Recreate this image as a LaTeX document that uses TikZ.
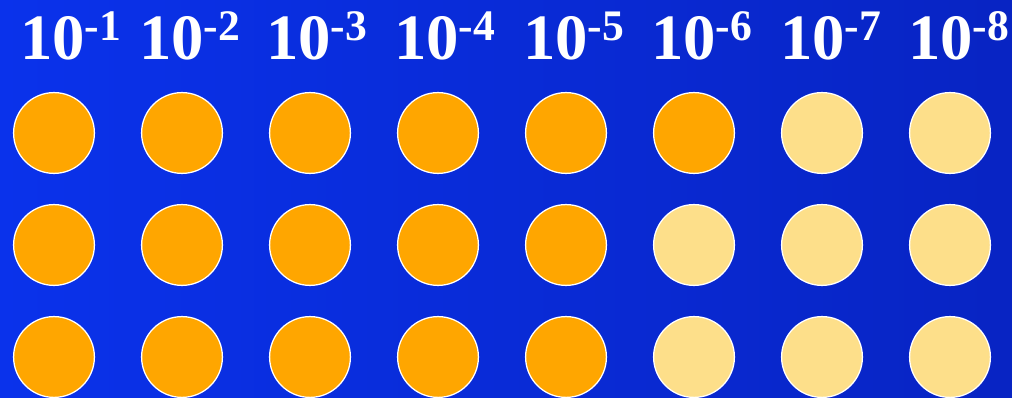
\documentclass[tikz,border=0pt]{standalone}
\usepackage{fontspec}
\setmainfont{Liberation Serif}
\definecolor{bgleft}{RGB}{10,50,235}
\definecolor{bgright}{RGB}{8,36,195}
\definecolor{dotfull}{RGB}{255,166,0}
\definecolor{dotpale}{RGB}{253,223,138}
\newcommand{\tenpow}[1]{\bfseries\fontsize{46}{46}\selectfont 10\raisebox{14pt}{\fontsize{31}{31}\selectfont -#1}}

\begin{document}
\begin{tikzpicture}[x=0.025cm,y=-0.025cm,
  dot/.style={circle,draw=white,line width=0.9pt,minimum size=2.02cm,inner sep=0pt},
  expo/.style={anchor=base west,inner sep=0pt,text=white}]
\useasboundingbox (0,0) rectangle (1012,398);
\shade[left color=bgleft,right color=bgright] (0,0) rectangle (1012,398);
\foreach \n/\x in {1/20,2/139,3/266,4/394,5/523,6/651,7/780,8/908}
  \node[expo] (p\n) at (\x,60) {\tenpow{\n}};
\foreach \c in {1,...,8}{
  \pgfmathsetmacro\cx{54+128*(\c-1)}
  \foreach \r/\cy in {1/133,2/245,3/357}{
    \pgfmathtruncatemacro\pcut{\r==1 ? 6 : 5}
    \ifnum\c>\pcut\relax\def\dotcol{dotpale}\else\def\dotcol{dotfull}\fi
    \node[dot,fill=\dotcol] (d\r\c) at (\cx,\cy) {};
  }
}
\end{tikzpicture}
\end{document}
